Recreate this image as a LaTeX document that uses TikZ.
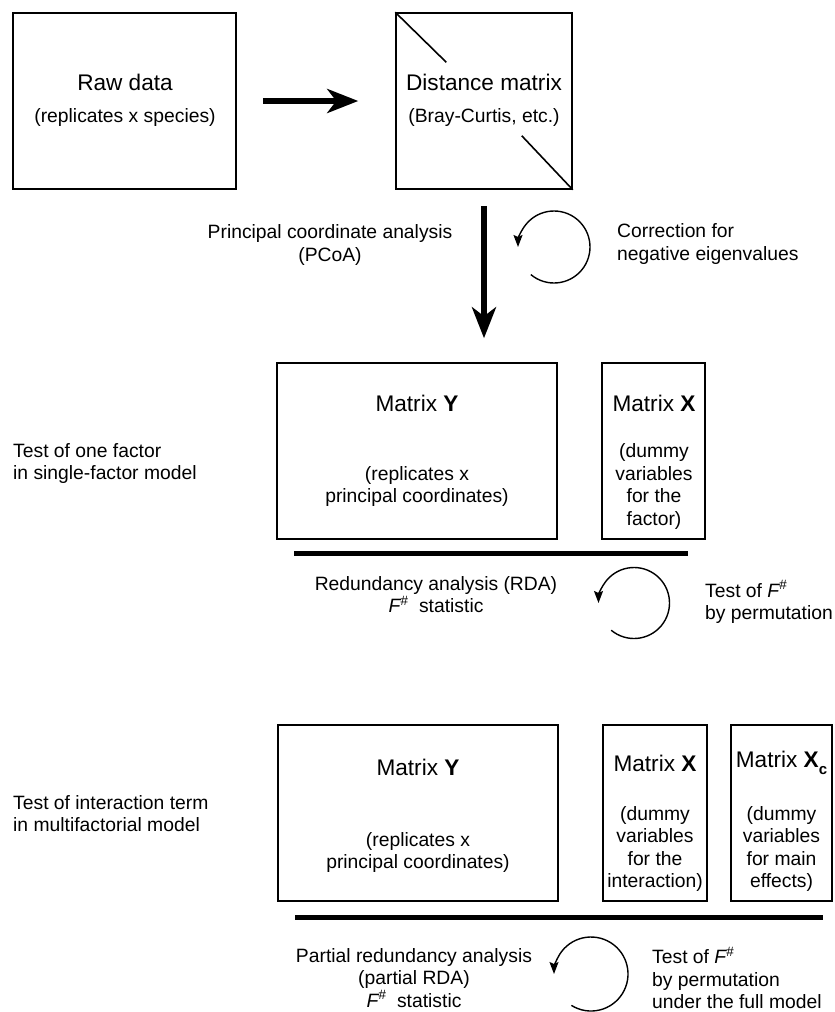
\documentclass[tikz,border=0pt]{standalone}
\usepackage{fontspec}
\setmainfont{Liberation Sans}
\usetikzlibrary{arrows.meta,calc}
\newcommand{\Fhash}{{\itshape F}\textsuperscript{\itshape\#}}
\tikzset{
  box/.style={draw, line width=1.5pt, inner sep=0pt, minimum height=176pt},
  txt/.style={inner sep=0pt, align=center, font=\fontsize{19.3}{22.5}\selectfont},
  txtl/.style={txt, align=left},
  ttl/.style={inner sep=0pt, font=\fontsize{22.6}{26}\selectfont},
  bigarrow/.style={line width=6pt, -{Stealth[length=31pt,width=24pt,inset=9pt]}},
  cyc/.style={line width=1.4pt, -{Stealth[length=12pt,width=9pt,inset=2pt]}},
  thickbar/.style={line width=5pt},
  diag/.style={line width=1.6pt},
}
\begin{document}
\begin{tikzpicture}[x=1pt,y=-1pt]
\useasboundingbox[fill=white] (0,0) rectangle (835,1012);
% top row
\node[box, minimum width=223pt] (raw) at (124.5,101) {};
\node[box, minimum width=176pt] (dist) at (484,101) {};
\node[ttl] (rawt) at (125,82) {Raw data};
\node[txt] (raws) at (125,118) {(replicates x species)};
\node[ttl] (distt) at (484,82) {Distance matrix};
\node[txt] (dists) at (484,118) {(Bray-Curtis, etc.)};
\draw[diag] (dist.north west) -- ($(dist.north west)+(51,50)$);
\draw[diag] ($(dist.south east)+(-51,-54)$) -- (dist.south east);
\draw[bigarrow] ([xshift=26pt]raw.east) -- ([xshift=-37pt]dist.west);
% section 1
\node[box, minimum width=280pt] (Y1) at (417,451) {};
\node[box, minimum width=103pt] (X1) at (653.5,451) {};
\draw[bigarrow] ($(dist.south)+(0,16)$) -- ($(dist.south |- Y1.north)+(0,-24)$);
\node[txt] (pcoa) at (330,245) {Principal coordinate analysis\\(PCoA)};
\draw[cyc] (554,247) ++(130:36) arc[start angle=130, end angle=-180, radius=36];
\node[txtl, anchor=west] (corr) at (617,244) {Correction for\\negative eigenvalues};
\node[txtl, anchor=west] (t1) at (13,463.5) {Test of one factor\\in single-factor model};
\node[ttl] (y1t) at (417,403) {Matrix \textbf{Y}};
\node[txt] (y1s) at (417,486.5) {(replicates x\\principal coordinates)};
\node[ttl] (x1t) at (654,403) {Matrix \textbf{X}};
\node[txt] (x1s) at (654,486.5) {(dummy\\variables\\for the\\factor)};
\draw[thickbar] ($(Y1.south west)+(18,14)$) -- ($(X1.south east)+(-18,14)$);
\node[txt] (rda) at (436,594.5) {Redundancy analysis (RDA)\\\Fhash~ statistic};
\draw[cyc] (634,603) ++(130:35.5) arc[start angle=130, end angle=-180, radius=35.5];
\node[txtl, anchor=west] (perm1) at (705,602) {Test of \Fhash\\by permutation};
% section 2
\node[txtl, anchor=west] (t2) at (13,813.5) {Test of interaction term\\in multifactorial model};
\node[box, minimum width=280pt] (Y2) at (418,813) {};
\node[box, minimum width=104pt] (X2) at (655,813) {};
\node[box, minimum width=101pt] (Xc) at (781.5,813) {};
\node[ttl] (y2t) at (418,767) {Matrix \textbf{Y}};
\node[txt] (y2s) at (418,852.5) {(replicates x\\principal coordinates)};
\node[ttl] (x2t) at (655,763) {Matrix \textbf{X}};
\node[txt] (x2s) at (655,849) {(dummy\\variables\\for the\\interaction)};
\node[ttl] (xct) at (781.5,763) {Matrix \textbf{X}\raisebox{-0.28em}{\fontsize{15}{15}\selectfont\bfseries c}};
\node[txt] (xcs) at (781.5,849) {(dummy\\variables\\for main\\effects)};
\draw[thickbar] ($(Y2.south west)+(18,16)$) -- ($(Xc.south east)+(-10,16)$);
\node[txt] (prda) at (414,978) {Partial redundancy analysis\\(partial RDA)\\\Fhash~ statistic};
\draw[cyc] (591,974) ++(122:37) arc[start angle=122, end angle=-180, radius=37];
\node[txtl, anchor=west] (perm2) at (652,978) {Test of \Fhash\\by permutation\\under the full model};
\end{tikzpicture}
\end{document}
